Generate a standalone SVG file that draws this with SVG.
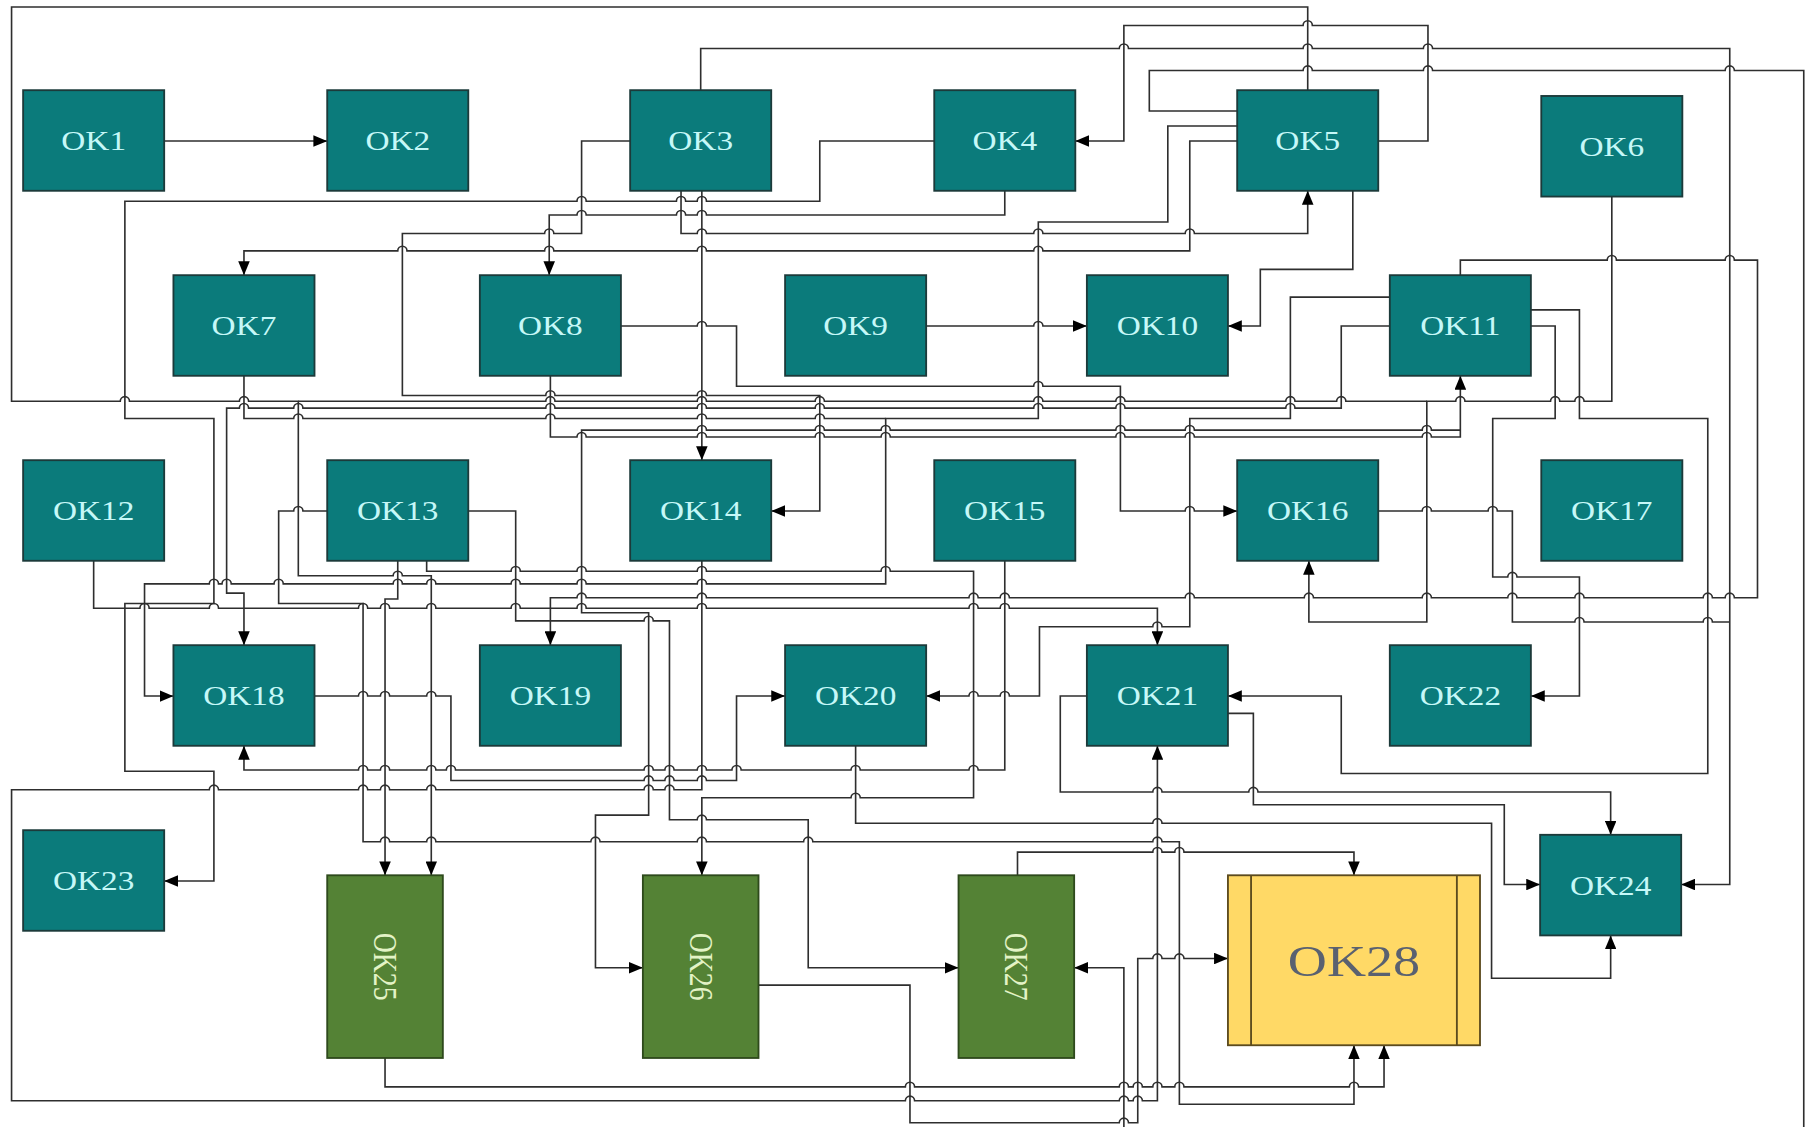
<svg xmlns="http://www.w3.org/2000/svg" width="1813" height="1127" viewBox="0 0 1813 1127">
<defs>
<style>
.n rect{fill:#0b7b7b;stroke:#1c3a3a;stroke-width:1.6}
.n text{fill:#c6f8f8;font-family:"Liberation Serif",serif;font-size:24px;text-anchor:middle;dominant-baseline:central}
.g rect{fill:#548235;stroke:#2e4a1c;stroke-width:1.6}
.g text{fill:#e3f3c6;font-family:"Liberation Serif",serif;font-size:24px;text-anchor:middle;dominant-baseline:central}
.y rect,.y line{fill:#ffd966;stroke:#5c4b1e;stroke-width:1.6}
.y text{fill:#5a6170;font-family:"Liberation Serif",serif;font-size:39px;text-anchor:middle;dominant-baseline:central}
#connectors path{fill:none;stroke:#2e2e2e;stroke-width:1.4}
#connectors path.a{marker-end:url(#arr)}
</style>
<marker id="arr" viewBox="0 0 12 10" refX="12" refY="5" markerWidth="12" markerHeight="10" orient="auto" markerUnits="userSpaceOnUse">
<path d="M0,0 L12,5 L0,10 z" fill="#000"/>
</marker>
</defs>
<rect width="1813" height="1127" fill="#fff"/>
<g transform="scale(1.15625)">
<g id="connectors">
<path class="a" d="M142,122 H283"/>
<path class="a" d="M606,78 V42 H968 A4,4 0 0 1 976,42 H1127 A4,4 0 0 1 1135,42 H1231 A4,4 0 0 1 1239,42 H1496 V765 H1454"/>
<path class="a" d="M1192,122 H1235 V22 H1135 A4,4 0 0 0 1127,22 H972 V122 H930"/>
<path class="a" d="M1131,78 V6 H10 V347 H104 A4,4 0 0 1 112,347 H207 A4,4 0 0 1 215,347 H258 V498 H340 A4,4 0 0 1 348,498 H373 V757"/>
<path class="a" d="M1070,96 H994 V61 H1127 A4,4 0 0 1 1135,61 H1231 A4,4 0 0 1 1239,61 H1492 A4,4 0 0 1 1500,61 H1560 V978 H972 V837 H929"/>
<path class="a" d="M1070,109 H1010 V192 H898 V362 H766 V505 H611 A4,4 0 0 0 603,505 H507 A4,4 0 0 0 499,505 H450 A4,4 0 0 0 442,505 H377 A4,4 0 0 0 369,505 H348 A4,4 0 0 0 340,505 H245 A4,4 0 0 0 237,505 H200 A4,4 0 0 0 192,505 H189 A4,4 0 0 0 181,505 H125 V602 H150"/>
<path class="a" d="M1070,122 H1029 V217 H902 A4,4 0 0 0 894,217 H611 A4,4 0 0 0 603,217 H479 A4,4 0 0 0 471,217 H352 A4,4 0 0 0 344,217 H211 V238"/>
<path class="a" d="M589,165 V202 H603 A4,4 0 0 1 611,202 H894 A4,4 0 0 1 902,202 H1025 A4,4 0 0 1 1033,202 H1131 V165"/>
<path class="a" d="M545,122 H503 V202 H479 A4,4 0 0 0 471,202 H348 V342 H472 A4,4 0 0 1 480,342 H603 A4,4 0 0 1 611,342 H709 V442 H667"/>
<path class="a" d="M869,165 V186 H611 A4,4 0 0 0 603,186 H593 A4,4 0 0 0 585,186 H507 A4,4 0 0 0 499,186 H475 V238"/>
<path class="a" d="M808,122 H709 V174 H611 A4,4 0 0 0 603,174 H593 A4,4 0 0 0 585,174 H507 A4,4 0 0 0 499,174 H108 V362 H185 V522 H108 V667 H185 V762 H142"/>
<path class="a" d="M1170,165 V233 H1090 V282 H1062"/>
<path class="a" d="M801,282 H894 A4,4 0 0 1 902,282 H940"/>
<path class="a" d="M607,165 V398"/>
<path class="a" d="M537,282 H603 A4,4 0 0 1 611,282 H637 V334 H894 A4,4 0 0 1 902,334 H969 V442 H1025 A4,4 0 0 1 1033,442 H1070"/>
<path class="a" d="M476,325 V378 H499 A4,4 0 0 1 507,378 H603 A4,4 0 0 1 611,378 H705 A4,4 0 0 1 713,378 H762 A4,4 0 0 1 770,378 H965 A4,4 0 0 1 973,378 H1025 A4,4 0 0 1 1033,378 H1230 A4,4 0 0 1 1238,378 H1263 V325"/>
<path class="a" d="M1394,170 V347 H1370 A4,4 0 0 0 1362,347 H1349 A4,4 0 0 0 1341,347 H1267 A4,4 0 0 0 1259,347 H1234 V538 H1132 V485"/>
<path d="M1234,347 H1164 A4,4 0 0 0 1156,347 H1120 A4,4 0 0 0 1112,347 H973 A4,4 0 0 0 965,347 H902 A4,4 0 0 0 894,347 H713 A4,4 0 0 0 705,347 H611 A4,4 0 0 0 603,347 H480 A4,4 0 0 0 472,347 H258"/>
<path d="M211,325 V362 H254 A4,4 0 0 1 262,362 H472 A4,4 0 0 1 480,362 H603 A4,4 0 0 1 611,362 H705 A4,4 0 0 1 713,362 H766"/>
<path class="a" d="M1202,257 H1116 V362 H1029 V542 H1005 A4,4 0 0 0 997,542 H899 V602 H873 A4,4 0 0 0 865,602 H846 A4,4 0 0 0 838,602 H801"/>
<path class="a" d="M1202,282 H1160 V353 H1120 A4,4 0 0 0 1112,353 H973 A4,4 0 0 0 965,353 H902 A4,4 0 0 0 894,353 H713 A4,4 0 0 0 705,353 H611 A4,4 0 0 0 603,353 H480 A4,4 0 0 0 472,353 H262 A4,4 0 0 0 254,353 H215 A4,4 0 0 0 207,353 H196 V513 H211 V558"/>
<path class="a" d="M1263,238 V225 H1390 A4,4 0 0 1 1398,225 H1492 A4,4 0 0 1 1500,225 H1520 V517 H1500 A4,4 0 0 0 1492,517 H1481 A4,4 0 0 0 1473,517 H1370 A4,4 0 0 0 1362,517 H1312 A4,4 0 0 0 1304,517 H1238 A4,4 0 0 0 1230,517 H1136 A4,4 0 0 0 1128,517 H1033 A4,4 0 0 0 1025,517 H873 A4,4 0 0 0 865,517 H846 A4,4 0 0 0 838,517 H611 A4,4 0 0 0 603,517 H507 A4,4 0 0 0 499,517 H476 V558"/>
<path class="a" d="M1324,268 H1366 V362 H1477 V669 H1160 V602 H1062"/>
<path class="a" d="M1324,282 H1345 V362 H1291 V499 H1304 A4,4 0 0 1 1312,499 H1366 V602 H1324"/>
<path d="M1192,442 H1230 A4,4 0 0 1 1238,442 H1287 A4,4 0 0 1 1295,442 H1308 V538 H1362 A4,4 0 0 1 1370,538 H1473 A4,4 0 0 1 1481,538 H1496"/>
<path class="a" d="M81,485 V526 H121 A4,4 0 0 1 129,526 H181 A4,4 0 0 1 189,526 H310 A4,4 0 0 1 318,526 H329 A4,4 0 0 1 337,526 H369 A4,4 0 0 1 377,526 H442 A4,4 0 0 1 450,526 H499 A4,4 0 0 1 507,526 H603 A4,4 0 0 1 611,526 H838 A4,4 0 0 1 846,526 H865 A4,4 0 0 1 873,526 H1001 V558"/>
<path class="a" d="M283,442 H262 A4,4 0 0 0 254,442 H241 V522 H314 V728 H329 A4,4 0 0 1 337,728 H369 A4,4 0 0 1 377,728 H511 A4,4 0 0 1 519,728 H603 A4,4 0 0 1 611,728 H695 A4,4 0 0 1 703,728 H997 A4,4 0 0 1 1005,728 H1020 V955 H1171 V904"/>
<path class="a" d="M405,442 H446 V537 H557 A4,4 0 0 1 565,537 H579 V709 H603 A4,4 0 0 1 611,709 H699 V837 H829"/>
<path class="a" d="M344,485 V518 H333 V757"/>
<path class="a" d="M369,485 V494 H442 A4,4 0 0 1 450,494 H499 A4,4 0 0 1 507,494 H603 A4,4 0 0 1 611,494 H762 A4,4 0 0 1 770,494 H842 V690 H744 A4,4 0 0 0 736,690 H607 V757"/>
<path class="a" d="M1263,372 H1238 A4,4 0 0 0 1230,372 H1033 A4,4 0 0 0 1025,372 H973 A4,4 0 0 0 965,372 H770 A4,4 0 0 0 762,372 H713 A4,4 0 0 0 705,372 H611 A4,4 0 0 0 603,372 H503 V530 H561 V705 H515 V837 H556"/>
<path class="a" d="M607,485 V683 H583 A4,4 0 0 0 575,683 H565 A4,4 0 0 0 557,683 H377 A4,4 0 0 0 369,683 H337 A4,4 0 0 0 329,683 H318 A4,4 0 0 0 310,683 H189 A4,4 0 0 0 181,683 H10 V952 H783 A4,4 0 0 1 791,952 H968 A4,4 0 0 1 976,952 H980 A4,4 0 0 1 988,952 H1001 V645"/>
<path class="a" d="M869,485 V666 H846 A4,4 0 0 0 838,666 H744 A4,4 0 0 0 736,666 H641 A4,4 0 0 0 633,666 H611 A4,4 0 0 0 603,666 H583 A4,4 0 0 0 575,666 H565 A4,4 0 0 0 557,666 H394 A4,4 0 0 0 386,666 H377 A4,4 0 0 0 369,666 H337 A4,4 0 0 0 329,666 H318 A4,4 0 0 0 310,666 H211 V645"/>
<path class="a" d="M272,602 H310 A4,4 0 0 1 318,602 H329 A4,4 0 0 1 337,602 H369 A4,4 0 0 1 377,602 H390 V675 H557 A4,4 0 0 1 565,675 H575 A4,4 0 0 1 583,675 H603 A4,4 0 0 1 611,675 H637 V602 H679"/>
<path class="a" d="M740,645 V712 H997 A4,4 0 0 1 1005,712 H1290 V846 H1393 V809"/>
<path class="a" d="M940,602 H917 V685 H997 A4,4 0 0 1 1005,685 H1080 A4,4 0 0 1 1088,685 H1393 V722"/>
<path class="a" d="M1062,617 H1084 V696 H1301 V765 H1332"/>
<path class="a" d="M880,757 V737 H997 A4,4 0 0 1 1005,737 H1016 A4,4 0 0 1 1024,737 H1171 V757"/>
<path class="a" d="M656,852 H787 V971 H968 A4,4 0 0 1 976,971 H984 V829 H997 A4,4 0 0 1 1005,829 H1016 A4,4 0 0 1 1024,829 H1062"/>
<path class="a" d="M333,915 V940 H783 A4,4 0 0 1 791,940 H968 A4,4 0 0 1 976,940 H980 A4,4 0 0 1 988,940 H997 A4,4 0 0 1 1005,940 H1016 A4,4 0 0 1 1024,940 H1167 A4,4 0 0 1 1175,940 H1197 V904"/>
</g>
<g id="OK1" class="n"><rect x="20" y="78" width="122" height="87"/><text transform="translate(81,122) scale(1.2,1)">OK1</text></g>
<g id="OK2" class="n"><rect x="283" y="78" width="122" height="87"/><text transform="translate(344,122) scale(1.2,1)">OK2</text></g>
<g id="OK3" class="n"><rect x="545" y="78" width="122" height="87"/><text transform="translate(606,122) scale(1.2,1)">OK3</text></g>
<g id="OK4" class="n"><rect x="808" y="78" width="122" height="87"/><text transform="translate(869,122) scale(1.2,1)">OK4</text></g>
<g id="OK5" class="n"><rect x="1070" y="78" width="122" height="87"/><text transform="translate(1131,122) scale(1.2,1)">OK5</text></g>
<g id="OK6" class="n"><rect x="1333" y="83" width="122" height="87"/><text transform="translate(1394,127) scale(1.2,1)">OK6</text></g>
<g id="OK7" class="n"><rect x="150" y="238" width="122" height="87"/><text transform="translate(211,282) scale(1.2,1)">OK7</text></g>
<g id="OK8" class="n"><rect x="415" y="238" width="122" height="87"/><text transform="translate(476,282) scale(1.2,1)">OK8</text></g>
<g id="OK9" class="n"><rect x="679" y="238" width="122" height="87"/><text transform="translate(740,282) scale(1.2,1)">OK9</text></g>
<g id="OK10" class="n"><rect x="940" y="238" width="122" height="87"/><text transform="translate(1001,282) scale(1.2,1)">OK10</text></g>
<g id="OK11" class="n"><rect x="1202" y="238" width="122" height="87"/><text transform="translate(1263,282) scale(1.2,1)">OK11</text></g>
<g id="OK12" class="n"><rect x="20" y="398" width="122" height="87"/><text transform="translate(81,442) scale(1.2,1)">OK12</text></g>
<g id="OK13" class="n"><rect x="283" y="398" width="122" height="87"/><text transform="translate(344,442) scale(1.2,1)">OK13</text></g>
<g id="OK14" class="n"><rect x="545" y="398" width="122" height="87"/><text transform="translate(606,442) scale(1.2,1)">OK14</text></g>
<g id="OK15" class="n"><rect x="808" y="398" width="122" height="87"/><text transform="translate(869,442) scale(1.2,1)">OK15</text></g>
<g id="OK16" class="n"><rect x="1070" y="398" width="122" height="87"/><text transform="translate(1131,442) scale(1.2,1)">OK16</text></g>
<g id="OK17" class="n"><rect x="1333" y="398" width="122" height="87"/><text transform="translate(1394,442) scale(1.2,1)">OK17</text></g>
<g id="OK18" class="n"><rect x="150" y="558" width="122" height="87"/><text transform="translate(211,602) scale(1.2,1)">OK18</text></g>
<g id="OK19" class="n"><rect x="415" y="558" width="122" height="87"/><text transform="translate(476,602) scale(1.2,1)">OK19</text></g>
<g id="OK20" class="n"><rect x="679" y="558" width="122" height="87"/><text transform="translate(740,602) scale(1.2,1)">OK20</text></g>
<g id="OK21" class="n"><rect x="940" y="558" width="122" height="87"/><text transform="translate(1001,602) scale(1.2,1)">OK21</text></g>
<g id="OK22" class="n"><rect x="1202" y="558" width="122" height="87"/><text transform="translate(1263,602) scale(1.2,1)">OK22</text></g>
<g id="OK23" class="n"><rect x="20" y="718" width="122" height="87"/><text transform="translate(81,762) scale(1.2,1)">OK23</text></g>
<g id="OK24" class="n"><rect x="1332" y="722" width="122" height="87"/><text transform="translate(1393,766) scale(1.2,1)">OK24</text></g>
<g id="OK25" class="g"><rect x="283" y="757" width="100" height="158"/><text transform="translate(333,836) scale(1.2,1) rotate(90)">OK25</text></g>
<g id="OK26" class="g"><rect x="556" y="757" width="100" height="158"/><text transform="translate(606,836) scale(1.2,1) rotate(90)">OK26</text></g>
<g id="OK27" class="g"><rect x="829" y="757" width="100" height="158"/><text transform="translate(879,836) scale(1.2,1) rotate(90)">OK27</text></g>
<g id="OK28" class="y"><rect x="1062" y="757" width="218" height="147"/><line x1="1082" y1="757" x2="1082" y2="904"/><line x1="1260" y1="757" x2="1260" y2="904"/><text transform="translate(1171,831) scale(1.2,1)">OK28</text></g>
</g>
</svg>
